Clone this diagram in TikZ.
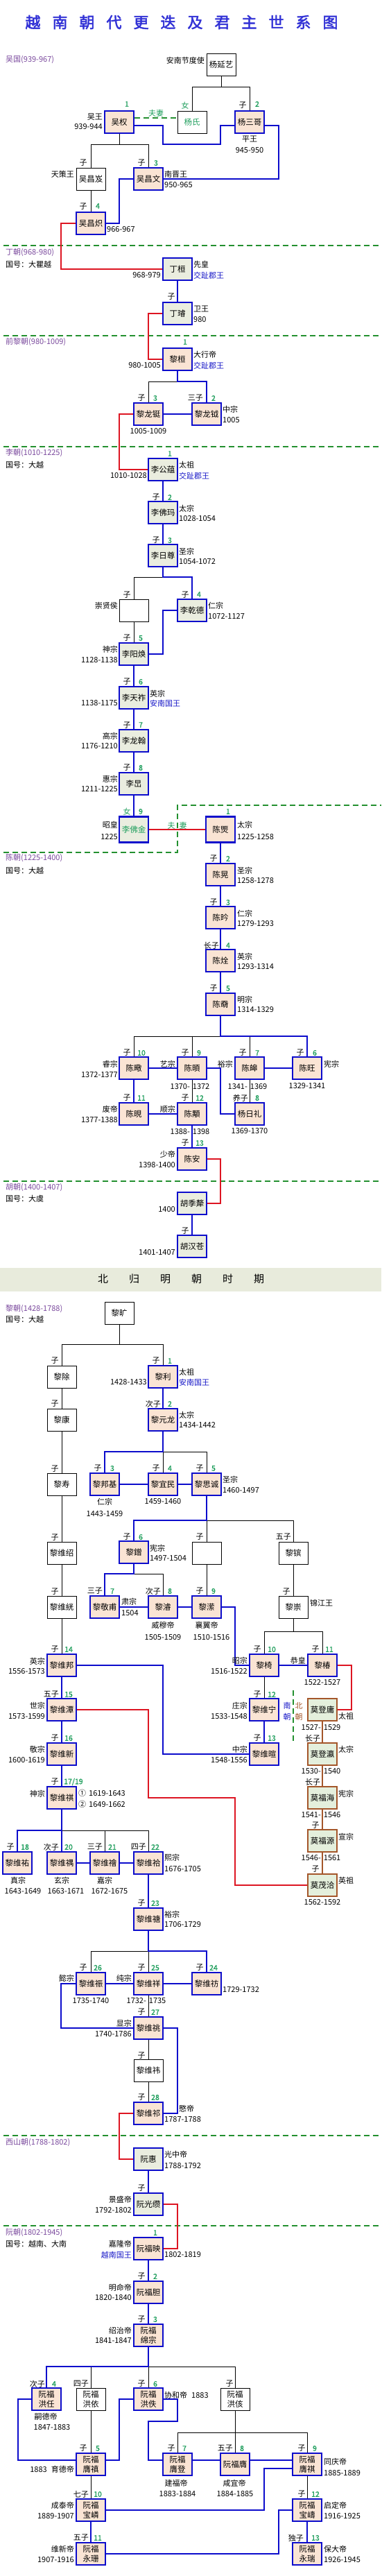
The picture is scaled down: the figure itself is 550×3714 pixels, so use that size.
\documentclass[tikz,border=0pt]{standalone}
\usepackage{fontspec}
\setmainfont{Noto Sans CJK SC}
\newfontfamily\titlef{Noto Sans CJK SC}[FakeBold=2.5]
\newfontfamily\numf{Noto Sans CJK SC}[FakeBold=1.2]
\usetikzlibrary{calc}
\definecolor{kblue}{HTML}{0C0CCC}
\definecolor{kred}{HTML}{DD1522}
\definecolor{kbrown}{HTML}{A4562A}
\definecolor{dgreen}{HTML}{23902F}
\definecolor{ngreen}{HTML}{1E9E5C}
\definecolor{tpurple}{HTML}{7B4A9E}
\definecolor{tblue}{HTML}{1818C8}
\definecolor{ttitle}{HTML}{3232D6}
\definecolor{peach}{HTML}{FAE4D4}
\definecolor{ggreen}{HTML}{EAEDDF}
\definecolor{mgreen}{HTML}{E4EFDC}
\definecolor{bandc}{HTML}{E8EBDC}
\pgfdeclarelayer{bg}
\pgfsetlayers{bg,main}
\newcounter{lbc}
\newcommand\labL[4][]{\stepcounter{lbc}\edef\lbnm{lb\arabic{lbc}}\node[txt,anchor=east,#1] (\lbnm) at (#2,#3) {#4};}
\newcommand\labR[4][]{\stepcounter{lbc}\edef\lbnm{lb\arabic{lbc}}\node[txt,anchor=west,#1] (\lbnm) at (#2,#3) {#4};}
\newcommand\labC[4][]{\stepcounter{lbc}\edef\lbnm{lb\arabic{lbc}}\node[txt,#1] (\lbnm) at (#2,#3) {#4};}
\newcommand\labN[4][]{\stepcounter{lbc}\edef\lbnm{lb\arabic{lbc}}\node[numst,#1] (\lbnm) at (#2,#3) {#4};}
\begin{document}
\begin{tikzpicture}[x=1pt,y=-1pt,
  txt/.style={inner sep=0pt,font=\fontsize{11}{13}\selectfont,text=black},
  numst/.style={inner sep=0pt,font=\numf\fontsize{10.5}{12}\selectfont,text=ngreen},
  box/.style={minimum width=42pt,minimum height=32pt,inner sep=0pt,align=center,font=\fontsize{11.5}{14}\selectfont},
  wbox/.style={box,draw=black,line width=0.8pt,fill=white},
  pbox/.style={box,draw=kblue,line width=2.4pt,fill=peach},
  gbox/.style={box,draw=kblue,line width=2.4pt,fill=ggreen},
  mbox/.style={box,draw=kbrown,line width=2.4pt,fill=mgreen},
  bl/.style={draw=kblue,line width=2.2pt},
  rd/.style={draw=kred,line width=2.2pt},
  bk/.style={draw=black,line width=0.8pt},
  br/.style={draw=kbrown,line width=2.2pt},
  gd/.style={draw=dgreen,line width=2pt,dash pattern=on 8pt off 5pt},
]
\useasboundingbox (0,0) rectangle (550,3714);
% ---------------- title
\node[inner sep=0pt,text=ttitle,font=\titlef\fontsize{22}{24}\selectfont] (title) at (262,32)
 {越\hspace{17pt}南\hspace{17pt}朝\hspace{17pt}代\hspace{17pt}更\hspace{17pt}迭\hspace{17pt}及\hspace{17pt}君\hspace{17pt}主\hspace{17pt}世\hspace{17pt}系\hspace{17pt}图};
% ---------------- Wu
\labR[text=tpurple]{8}{86}{吴国(939-967)}
\node[wbox] (yyy) at (319,93.5) {杨延艺};
\node[wbox,text=ngreen] (ysh) at (277,176) {杨氏};
\node[pbox] (ysg) at (360,176) {杨三哥};
\node[pbox] (wq) at (172,176) {吴权};
\node[wbox] (wcj) at (131,258) {吴昌岌};
\node[pbox] (wcw) at (214,258) {吴昌文};
\node[pbox] (wcc) at (131,322) {吴昌炽};
\labL{295}{87}{安南节度使}
\labC[text=ngreen]{267}{152}{女}
\labC{350}{152}{子}\labN{371}{150}{2}
\labN{183}{150}{1}
\labL{148}{169}{吴王}\labL{148}{183}{939-944}
\labC[text=ngreen]{225}{163}{夫妻}
\labC{360}{201}{平王}\labC{360}{217}{945-950}
\labC{120}{235}{子}\labC{204}{235}{子}\labN{225}{235}{3}
\labL{107}{251}{天策王}
\labR{237}{251}{南晋王}\labR{237}{267}{950-965}
\labC{120}{298}{子}\labN{141}{297}{4}
\labR{154}{331}{966-967}
% ---------------- Dinh
\labR[text=tpurple]{8}{364}{丁朝(968-980)}
\labR{8}{381}{国号：大瞿越}
\node[gbox] (dh) at (256,388) {丁桓};
\node[gbox] (dx) at (256,452) {丁璿};
\labR{279}{381}{先皇}\labR[text=tblue]{279}{397}{交趾郡王}\labL{232}{397}{968-979}
\labC{247}{428}{子}
\labR{279}{445}{卫王}\labR{279}{461}{980}
% ---------------- Early Le
\labR[text=tpurple]{8}{493}{前黎朝(980-1009)}
\node[pbox] (lh) at (256,518) {黎桓};
\labN{267}{493}{1}
\labR{279}{511}{大行帝}\labR[text=tblue]{279}{527}{交趾郡王}\labL{232}{527}{980-1005}
\node[pbox] (lld) at (214,597) {黎龙铤};
\node[pbox] (lly) at (298,597) {黎龙钺};
\labC{204}{574}{子}\labN{224}{574}{3}\labL{293}{574}{三子}\labN{308}{574}{2}
\labR{321}{590}{中宗}\labR{321}{606}{1005}
\labC{214}{622}{1005-1009}
% ---------------- Ly
\labR[text=tpurple]{8}{653}{李朝(1010-1225)}
\labR{8}{670}{国号：大越}
\node[gbox] (lgy) at (235,677) {李公蕴};
\labN{245}{654}{1}\labR{258}{670}{太祖}\labR[text=tblue]{258}{686}{交趾郡王}\labL{212}{686}{1010-1028}
\node[gbox] (lfm) at (235,739) {李佛玛};
\labC{225}{717}{子}\labN{245}{717}{2}\labR{258}{733}{太宗}\labR{258}{748}{1028-1054}
\node[gbox] (lrz) at (235,801) {李日尊};
\labC{225}{779}{子}\labN{245}{779}{3}\labR{258}{795}{圣宗}\labR{258}{810}{1054-1072}
\node[wbox] (cxh) at (193,880) {};
\labC{183}{858}{子}\labL{170}{873}{崇贤侯}
\node[gbox] (lqd) at (277,880) {李乾德};
\labC{267}{858}{子}\labN{287}{857}{4}\labR{300}{873}{仁宗}\labR{300}{889}{1072-1127}
\node[gbox] (lyh) at (193,943) {李阳焕};
\labC{183}{920}{子}\labN{203}{920}{5}\labL{170}{936}{神宗}\labL{170}{952}{1128-1138}
\node[gbox] (ltz) at (193,1006) {李天祚};
\labC{183}{983}{子}\labN{203}{983}{6}\labR{216}{1000}{英宗}\labR[text=tblue]{216}{1014}{安南国王}\labL{170}{1014}{1138-1175}
\node[gbox] (llh) at (193,1068) {李龙翰};
\labC{183}{1046}{子}\labN{203}{1045}{7}\labL{170}{1061}{高宗}\labL{170}{1076}{1176-1210}
\node[gbox] (lc) at (193,1130) {李旵};
\labC{183}{1107}{子}\labN{203}{1107}{8}\labL{170}{1123}{惠宗}\labL{170}{1138}{1211-1225}
\node[gbox,minimum height=37pt,text=ngreen] (lfj) at (193,1196) {李佛金};
\labC[text=ngreen]{183}{1170}{女}\labN{203}{1170}{9}\labL{170}{1189}{昭皇}\labL{170}{1207}{1225}
\node[pbox,minimum height=37pt] (cj) at (318,1196) {陈煚};
\labC[text=ngreen]{247}{1190}{夫}\labC[text=ngreen]{264}{1190}{妻}
\labN{329}{1170}{1}\labR{342}{1189}{太宗}\labR{342}{1207}{1225-1258}
% ---------------- Tran
\labR[text=tpurple]{8}{1237}{陈朝(1225-1400)}
\labR{8}{1255}{国号：大越}
\node[pbox] (ch) at (318,1261) {陈晃};
\labC{308}{1238}{子}\labN{329}{1238}{2}\labR{342}{1255}{圣宗}\labR{342}{1270}{1258-1278}
\node[pbox] (cy) at (318,1323) {陈昑};
\labC{308}{1301}{子}\labN{329}{1301}{3}\labR{342}{1317}{仁宗}\labR{342}{1332}{1279-1293}
\node[pbox] (cq) at (318,1385) {陈烇};
\labL{316}{1363}{长子}\labN{329}{1363}{4}\labR{342}{1379}{英宗}\labR{342}{1394}{1293-1314}
\node[pbox] (cm) at (318,1448) {陈奣};
\labC{308}{1425}{子}\labN{329}{1425}{5}\labR{342}{1441}{明宗}\labR{342}{1456}{1314-1329}
\node[pbox] (cd) at (193,1540) {陈曔};
\node[pbox] (cx) at (277,1540) {陈暊};
\node[pbox] (chao) at (360,1540) {陈皞};
\node[pbox] (cw) at (443,1540) {陈旺};
\labC{183}{1518}{子}\labN{204}{1518}{10}\labL{170}{1534}{睿宗}\labL{170}{1550}{1372-1377}
\labC{267}{1518}{子}\labN{287}{1518}{9}\labL{253}{1534}{艺宗}\labC{274}{1567}{1370-\hspace{4pt}1372}
\labC{350}{1518}{子}\labN{371}{1518}{7}\labL{336}{1534}{裕宗}\labC{357}{1567}{1341-\hspace{4pt}1369}
\labC{433}{1518}{子}\labN{454}{1518}{6}\labR{467}{1534}{宪宗}\labC{443}{1566}{1329-1341}
\node[pbox] (cxian) at (193,1606) {陈晛};
\node[pbox] (cyong) at (277,1606) {陈顒};
\node[pbox] (yrl) at (360,1606) {杨日礼};
\labC{183}{1583}{子}\labN{204}{1583}{11}\labL{170}{1599}{废帝}\labL{170}{1615}{1377-1388}
\labC{267}{1583}{子}\labN{288}{1583}{12}\labL{253}{1599}{顺宗}\labC{274}{1632}{1388-\hspace{4pt}1398}
\labL{358}{1583}{养子}\labN{371}{1583}{8}\labC{360}{1631}{1369-1370}
\node[pbox] (ca) at (277,1671) {陈安};
\labC{267}{1648}{子}\labN{288}{1648}{13}\labL{253}{1664}{少帝}\labL{253}{1680}{1398-1400}
% ---------------- Ho
\labR[text=tpurple]{8}{1712}{胡朝(1400-1407)}
\labR{8}{1728}{国号：大虞}
\node[gbox] (hjl) at (277,1735) {胡季犛};
\labL{253}{1744}{1400}
\node[gbox] (hhc) at (277,1797) {胡汉苍};
\labC{267}{1775}{子}\labL{253}{1806}{1401-1407}
% ---------------- band
\node[inner sep=0pt,font=\fontsize{15}{16}\selectfont] (bandtxt) at (261,1844)
 {北\hspace{30pt}归\hspace{30pt}明\hspace{30pt}朝\hspace{30pt}时\hspace{30pt}期};
% ---------------- Later Le
\labR[text=tpurple]{8}{1887}{黎朝(1428-1788)}
\labR{8}{1902}{国号：大越}
\node[wbox] (lk) at (172,1893) {黎旷};
\node[wbox] (lchu) at (89,1985) {黎除};
\labC{79}{1962}{子}
\node[pbox] (lli) at (235,1985) {黎利};
\labC{225}{1962}{子}\labN{245}{1962}{1}\labR{258}{1978}{太祖}\labR[text=tblue]{258}{1993}{安南国王}\labL{212}{1993}{1428-1433}
\node[wbox] (lkang) at (89,2047) {黎康};
\labC{79}{2024}{子}
\node[pbox] (lyl) at (235,2047) {黎元龙};
\labL{232}{2024}{次子}\labN{245}{2024}{2}\labR{258}{2040}{太宗}\labR{258}{2055}{1434-1442}
\node[wbox] (lshou) at (89,2140) {黎寿};
\labC{79}{2118}{子}
\node[pbox] (lbj) at (151,2140) {黎邦基};
\labC{141}{2117}{子}\labN{162}{2117}{3}\labC{151}{2165}{仁宗}\labC{151}{2183}{1443-1459}
\node[pbox] (lym) at (235,2140) {黎宜民};
\labC{225}{2117}{子}\labN{245}{2117}{4}\labC{235}{2165}{1459-1460}
\node[pbox] (lsc) at (298,2140) {黎思诚};
\labC{288}{2117}{子}\labN{308}{2117}{5}\labR{321}{2133}{圣宗}\labR{321}{2149}{1460-1497}
\node[wbox] (lwx) at (89,2239) {黎维绍};
\labC{79}{2217}{子}
\node[pbox] (lz) at (193,2238) {黎鏳};
\labC{183}{2216}{子}\labN{203}{2216}{6}\labR{216}{2232}{宪宗}\labR{216}{2247}{1497-1504}
\node[wbox] (emp) at (298,2239) {};
\labC{288}{2216}{子}
\node[wbox] (lbin) at (423,2239) {黎镔};
\labL{420}{2216}{五子}
\node[wbox] (lwk) at (89,2317) {黎维絖};
\labC{79}{2295}{子}
\node[pbox] (ljf) at (151,2317) {黎敬甫};
\labL{148}{2294}{三子}\labN{162}{2294}{7}\labR{175}{2309}{肃宗}\labR{175}{2326}{1504}
\node[pbox] (ljun) at (235,2317) {黎濬};
\labL{232}{2294}{次子}\labN{245}{2294}{8}\labC{235}{2343}{威穆帝}\labC{235}{2361}{1505-1509}
\node[pbox] (lying) at (298,2317) {黎潆};
\labC{288}{2294}{子}\labN{308}{2294}{9}\labC{298}{2343}{襄翼帝}\labC{305}{2361}{1510-1516}
\node[wbox] (lchong) at (423,2317) {黎崇};
\labC{413}{2295}{子}\labR{447}{2311}{锦江王}
\node[pbox] (lwb) at (89,2401) {黎维邦};
\labC{79}{2378}{子}\labN{99}{2378}{14}\labL{65}{2395}{英宗}\labL{65}{2410}{1556-1573}
\node[pbox] (lyi) at (381,2401) {黎椅};
\labC{371}{2378}{子}\labN{392}{2378}{10}\labL{357}{2394}{昭宗}\labL{357}{2410}{1516-1522}
\node[pbox] (lchun) at (465,2401) {黎椿};
\labC{455}{2378}{子}\labN{475}{2378}{11}\labL{441}{2394}{恭皇}\labC{465}{2426}{1522-1527}
\node[pbox] (lwt) at (89,2465) {黎维潭};
\labL{85}{2443}{五子}\labN{99}{2443}{15}\labL{65}{2459}{世宗}\labL{65}{2475}{1573-1599}
\node[pbox] (lwn) at (381,2465) {黎维宁};
\labC{371}{2443}{子}\labN{392}{2443}{12}\labL{357}{2459}{庄宗}\labL{357}{2475}{1533-1548}
\node[mbox] (mdy) at (465,2465) {莫登庸};
\labR{488}{2474}{太祖}\labC{463}{2491}{1527-\hspace{4pt}1529}
\labC[text=tblue,align=center,font=\fontsize{11}{16}\selectfont]{414}{2467}{南\\朝}
\labC[text=kbrown,align=center,font=\fontsize{11}{16}\selectfont]{431}{2467}{北\\朝}
\node[pbox] (lwxin) at (89,2529) {黎维新};
\labC{79}{2506}{子}\labN{99}{2506}{16}\labL{65}{2522}{敬宗}\labL{65}{2538}{1600-1619}
\node[pbox] (lwx2) at (381,2529) {黎维暄};
\labC{371}{2506}{子}\labN{392}{2506}{13}\labL{357}{2522}{中宗}\labL{357}{2538}{1548-1556}
\node[mbox] (mdying) at (465,2529) {莫登瀛};
\labC{451}{2506}{长子}\labR{488}{2522}{太宗}\labC{463}{2554}{1530-\hspace{4pt}1540}
\node[pbox] (lwq) at (89,2592) {黎维祺};
\labC{79}{2569}{子}\labN[anchor=west]{92}{2569}{17/19}\labL{65}{2586}{神宗}
\labR{113}{2585}{①\hspace{4pt}1619-1643}\labR{113}{2601}{②\hspace{4pt}1649-1662}
\node[mbox] (mfh) at (465,2592) {莫福海};
\labC{451}{2569}{长子}\labR{488}{2586}{宪宗}\labC{463}{2617}{1541-\hspace{4pt}1546}
\node[mbox] (mfy) at (465,2654) {莫福源};
\labC{455}{2632}{子}\labR{488}{2648}{宣宗}\labC{463}{2679}{1546-\hspace{4pt}1561}
\node[mbox] (mmq) at (465,2718) {莫茂洽};
\labC{455}{2695}{子}\labR{488}{2711}{英祖}\labC{465}{2743}{1562-1592}
\node[pbox] (lwyou) at (25,2686) {黎维祐};
\labC{15}{2663}{子}\labN{36}{2663}{18}\labC{26}{2711}{真宗}\labC{33}{2727}{1643-1649}
\node[pbox] (lwyu) at (89,2686) {黎维禑};
\labL{85}{2663}{次子}\labN{99}{2663}{20}\labC{89}{2711}{玄宗}\labC{95}{2727}{1663-1671}
\node[pbox] (lwhui) at (151,2686) {黎维禬};
\labL{148}{2663}{三子}\labN{162}{2663}{21}\labC{151}{2711}{嘉宗}\labC{158}{2727}{1672-1675}
\node[pbox] (lwhe) at (214,2686) {黎维祫};
\labL{211}{2663}{四子}\labN{224}{2663}{22}\labR{237}{2678}{熙宗}\labR{237}{2695}{1676-1705}
\node[pbox] (lwtang) at (214,2767) {黎维禟};
\labC{204}{2744}{子}\labN{224}{2744}{23}\labR{237}{2760}{裕宗}\labR{237}{2775}{1706-1729}
\node[pbox] (lwchen) at (131,2860) {黎维祳};
\labC{120}{2837}{子}\labN{141}{2837}{26}\labL{107}{2852}{懿宗}\labC{131}{2885}{1735-1740}
\node[pbox] (lwxiang) at (214,2860) {黎维祥};
\labC{204}{2837}{子}\labN{224}{2837}{25}\labL{190}{2852}{纯宗}\labC{211}{2885}{1732-\hspace{4pt}1735}
\node[pbox] (lwfang) at (298,2860) {黎维祊};
\labC{288}{2837}{子}\labN{308}{2837}{24}\labR{321}{2869}{1729-1732}
\node[pbox] (lwtiao) at (214,2924) {黎维祧};
\labC{204}{2901}{子}\labN{224}{2901}{27}\labL{190}{2917}{显宗}\labL{190}{2933}{1740-1786}
\node[wbox] (lwwei) at (214,2985) {黎维祎};
\labC{204}{2964}{子}
\node[pbox] (lwqi) at (214,3047) {黎维祁};
\labC{204}{3024}{子}\labN{224}{3024}{28}\labR{258}{3040}{愍帝}\labR{237}{3056}{1787-1788}
% ---------------- Tay Son
\labR[text=tpurple]{8}{3089}{西山朝(1788-1802)}
\node[gbox] (nh) at (214,3113) {阮惠};
\labR{237}{3106}{光中帝}\labR{237}{3123}{1788-1792}
\node[gbox] (ngz) at (214,3178) {阮光缵};
\labC{204}{3155}{子}\labL{190}{3171}{景盛帝}\labL{190}{3187}{1792-1802}
% ---------------- Nguyen
\labR[text=tpurple]{8}{3219}{阮朝(1802-1945)}
\labR{8}{3235}{国号：越南、大南}
\node[pbox] (nfy) at (214,3242) {阮福映};
\labN{224}{3219}{1}\labL{190}{3235}{嘉隆帝}\labL[text=tblue]{190}{3251}{越南国王}\labR{237}{3251}{1802-1819}
\node[pbox] (nfd) at (214,3305) {阮福胆};
\labC{204}{3282}{子}\labN{224}{3282}{2}\labL{190}{3298}{明命帝}\labL{190}{3313}{1820-1840}
\node[pbox] (nfmz) at (214,3367) {阮福\\绵宗};
\labC{204}{3344}{子}\labN{224}{3344}{3}\labL{190}{3360}{绍治帝}\labL{190}{3375}{1841-1847}
\node[pbox] (nhr) at (67,3459) {阮福\\洪任};
\labL{65}{3437}{次子}\labN{78}{3437}{4}\labC{66}{3484}{嗣德帝}\labC{75}{3500}{1847-1883}
\node[wbox] (nhy) at (131,3459) {阮福\\洪依};
\labL{128}{3437}{四子}
\node[pbox] (nhd) at (214,3459) {阮福\\洪佚};
\labC{204}{3437}{子}\labN{224}{3437}{6}\labR{237}{3453}{协和帝\hspace{6pt}1883}
\node[wbox] (nhg) at (339,3459) {阮福\\洪侅};
\labC{331}{3437}{子}
\node[pbox] (nyz) at (131,3553) {阮福\\膺禛};
\labC{120}{3530}{子}\labN{141}{3530}{5}\labL{107}{3560}{1883\hspace{6pt}育德帝}
\node[pbox] (nyd) at (256,3553) {阮福\\膺登};
\labC{247}{3530}{子}\labN{266}{3530}{7}\labC{254}{3580}{建福帝}\labC{256}{3596}{1883-1884}
\node[pbox] (nyt) at (339,3553) {阮福膺};
\labL{336}{3530}{五子}\labN{349}{3530}{8}\labC{338}{3580}{咸宜帝}\labC{339}{3596}{1884-1885}
\node[pbox] (nyq) at (443,3553) {阮福\\膺祺};
\labC{435}{3530}{子}\labN{454}{3530}{9}\labR{467}{3549}{同庆帝}\labR{467}{3566}{1885-1889}
\node[pbox] (nbl) at (131,3619) {阮福\\宝嶙};
\labL{128}{3596}{七子}\labN{141}{3596}{10}\labL{107}{3612}{成泰帝}\labL{107}{3628}{1889-1907}
\node[pbox] (nbd) at (443,3619) {阮福\\宝嶹};
\labC{435}{3596}{子}\labN{455}{3596}{12}\labR{467}{3612}{启定帝}\labR{467}{3628}{1916-1925}
\node[pbox] (nys) at (131,3682) {阮福\\永珊};
\labL{128}{3659}{五子}\labN{141}{3659}{11}\labL{107}{3675}{维新帝}\labL{107}{3691}{1907-1916}
\node[pbox] (nyr) at (443,3682) {阮福\\永瑞};
\labL{438}{3659}{独子}\labN{455}{3659}{13}\labR{467}{3675}{保大帝}\labR{467}{3691}{1926-1945}
% ================= background: fills, separators, connectors
\begin{pgfonlayer}{bg}
\fill[white] (0,0) rectangle (550,3714);
\fill[bandc] (0,1828) rectangle (550,1862);
\draw[gd] (5,354) -- (550,354);
\draw[gd] (5,484) -- (550,484);
\draw[gd] (5,644) -- (550,644);
\draw[gd] (5,1229) -- (256,1229) -- (256,1161) -- (550,1161);
\draw[gd] (5,1703) -- (550,1703);
\draw[gd] (5,3079) -- (550,3079);
\draw[gd] (5,3209) -- (550,3209);
\draw[gd] (423,2437) -- (423,2512);
% Wu
\draw[bk] (yyy.south) -- (319,125);
\draw[bk] (ysh.north) |- (ysg.north |- 0,125) -- (ysg.north);
\draw[gd] (wq.east |- 0,170) -- (ysh.west |- 0,170);
\draw[bl] (wq.east |- 0,181) -- (235,181) |- (318,208) |- (ysg.west |- 0,181);
\draw[bl] (ysg.east |- 0,181) -- (402,181) |- (wcw.east);
\draw[bk] (wq.south) -- (172,208);
\draw[bk] (wcj.north) |- (wcw.north |- 0,208) -- (wcw.north);
\draw[bl] (wcw.west) -- (172,258) |- (wcc.east);
\draw[bk] (wcj.south) -- (wcc.north);
\draw[rd] (wcc.west) -- (88,322) |- (dh.west);
% Dinh / Early Le
\draw[bl] (dh.south) -- (dx.north);
\draw[rd] (dx.west) -- (214,452) |- (lh.west);
\draw[bk] (lld.north) |- (lh.south |- 0,550);
\draw[bl] (lh.south) |- (lly.north |- 0,550) -- (lly.north);
\draw[bl] (lld.east) -- (lly.west);
\draw[rd] (lld.west) -- (172,597) |- (lgy.west);
% Ly
\draw[bl] (lgy.south) -- (lfm.north);
\draw[bl] (lfm.south) -- (lrz.north);
\draw[bk] (cxh.north) |- (lrz.south |- 0,832);
\draw[bl] (lrz.south) |- (lqd.north |- 0,832) -- (lqd.north);
\draw[bl] (lqd.west) -- (235,880) |- (lyh.east);
\draw[bk] (cxh.south) -- (lyh.north);
\draw[bl] (lyh.south) -- (ltz.north);
\draw[bl] (ltz.south) -- (llh.north);
\draw[bl] (llh.south) -- (lc.north);
\draw[bl] (lc.south) -- (lfj.north);
\draw[rd] (lfj.east) -- (cj.west);
% Tran
\draw[bl] (cj.south) -- (ch.north);
\draw[bl] (ch.south) -- (cy.north);
\draw[bl] (cy.south) -- (cq.north);
\draw[bl] (cq.south) -- (cm.north);
\draw[bk] (cd.north) |- (cw.north |- 0,1494);
\draw[bk] (cx.north) -- (cx.north |- 0,1494);
\draw[bk] (chao.north) -- (chao.north |- 0,1494);
\draw[bl] (cm.south) |- (cw.north |- 0,1494) -- (cw.north);
\draw[bl] (cd.east) -- (cx.west);
\draw[bl] (cx.east) -- (318,1540) |- (yrl.west);
\draw[bl] (chao.east) -- (cw.west);
\draw[bk] (chao.south) -- (yrl.north);
\draw[bk] (cx.south) -- (cyong.north);
\draw[bl] (cd.south) -- (cxian.north);
\draw[bl] (cxian.east) -- (cyong.west);
\draw[bl] (cyong.south) -- (ca.north);
\draw[rd] (ca.east) -- (318,1671) |- (hjl.east);
\draw[bl] (hjl.south) -- (hhc.north);
% Later Le
\draw[bk] (lk.south) -- (172,1938);
\draw[bk] (lchu.north) |- (lli.north |- 0,1938) -- (lli.north);
\draw[bk] (lchu.south) -- (lkang.north);
\draw[bk] (lkang.south) -- (lshou.north);
\draw[bk] (lshou.south) -- (lwx.north);
\draw[bk] (lwx.south) -- (lwk.north);
\draw[bk] (lwk.south) -- (lwb.north);
\draw[bl] (lli.south) -- (lyl.north);
\draw[bk] (lym.north) |- (lsc.north |- 0,2093) -- (lsc.north);
\draw[bl] (lyl.south) |- (lbj.north |- 0,2093) -- (lbj.north);
\draw[bl] (lbj.east) -- (lym.west);
\draw[bl] (lym.east) -- (lsc.west);
\draw[bk] (emp.north) |- (lbin.north |- 0,2192) -- (lbin.north);
\draw[bl] (lsc.south) |- (lz.north |- 0,2192) -- (lz.north);
\draw[bk] (ljun.north) |- (lz.south |- 0,2269);
\draw[bl] (lz.south) |- (ljf.north |- 0,2269) -- (ljf.north);
\draw[bl] (ljf.east) -- (ljun.west);
\draw[bl] (ljun.east) -- (lying.west);
\draw[bk] (emp.south) -- (lying.north);
\draw[bk] (lbin.south) -- (lchong.north);
\draw[bl] (lying.east) -- (339,2317) |- (lyi.west);
\draw[bk] (lchong.south) -- (423,2352);
\draw[bk] (lyi.north) |- (lchun.north |- 0,2352) -- (lchun.north);
\draw[bl] (lyi.east) -- (lchun.west);
\draw[rd] (lchun.east) -- (507,2401) |- (mdy.east);
\draw[bl] (lwb.east) -- (235,2401) |- (lwx2.west);
\draw[bl] (lwb.south) -- (lwt.north);
\draw[bk] (lyi.south) -- (lwn.north);
\draw[bl] (lwn.south) -- (lwx2.north);
\draw[rd] (lwt.east) -- (214,2465) |- (339,2592) |- (mmq.west);
\draw[bl] (lwt.south) -- (lwxin.north);
\draw[bl] (lwxin.south) -- (lwq.north);
\draw[br] (mdy.south) -- (mdying.north);
\draw[br] (mdying.south) -- (mfh.north);
\draw[br] (mfh.south) -- (mfy.north);
\draw[br] (mfy.south) -- (mmq.north);
\draw[bk] (lwhui.north) |- (lwq.south |- 0,2639);
\draw[bk] (lwhe.north) |- (lwq.south |- 0,2639);
\draw[bl] (lwq.south) -- (lwyu.north);
\draw[bl] (lwq.south |- 0,2639) -| (lwyou.north);
\draw[bl] (lwyu.east) -- (lwhui.west);
\draw[bl] (lwhui.east) -- (lwhe.west);
\draw[bl] (lwhe.south) -- (lwtang.north);
\draw[bk] (lwchen.north) |- (lwxiang.north |- 0,2813) -- (lwxiang.north);
\draw[bl] (lwtang.south) |- (lwfang.north |- 0,2813) -- (lwfang.north);
\draw[bl] (lwchen.east) -- (lwxiang.west);
\draw[bl] (lwxiang.east) -- (lwfang.west);
\draw[bl] (lwchen.west) -- (88,2860) |- (lwtiao.west);
\draw[bk] (lwxiang.south) -- (lwtiao.north);
\draw[bk] (lwtiao.south) -- (lwwei.north);
\draw[bk] (lwwei.south) -- (lwqi.north);
\draw[bl] (lwtiao.east) -- (256,2924) |- (lwqi.east);
\draw[rd] (lwqi.west) -- (172,3047) |- (nh.west);
% Tay Son / Nguyen
\draw[bl] (nh.south) -- (ngz.north);
\draw[rd] (ngz.east) -- (256,3178) |- (nfy.east);
\draw[bl] (nfy.south) -- (nfd.north);
\draw[bl] (nfd.south) -- (nfmz.north);
\draw[bk] (nhy.north) |- (nhg.north |- 0,3412) -- (nhg.north);
\draw[bk] (nhd.north) -- (nhd.north |- 0,3412);
\draw[bl] (nfmz.south) |- (nhr.north |- 0,3412) -- (nhr.north);
\draw[bk] (nhg.south) -- (nyt.north);
\draw[bk] (nyd.north) |- (nyq.north |- 0,3507) -- (nyq.north);
\draw[bk] (nhy.south) -- (nyz.north);
\draw[bl] (nhr.west) -- (26,3459) |- (nyz.west |- 0,3547);
\draw[bl] (nyz.east |- 0,3547) -- (172,3547) |- (nhd.west);
\draw[bl] (nhd.east) -- (256,3459) |- (214,3491) |- (nyd.west |- 0,3547);
\draw[bl] (nyd.east |- 0,3547) -- (nyt.west |- 0,3547);
\draw[bl] (nyt.east |- 0,3547) -- (nyq.west |- 0,3547);
\draw[bl] (nyq.west |- 0,3559) -- (381,3559) |- (nbl.east);
\draw[bk] (nyz.south) -- (nbl.north);
\draw[bk] (nyq.south) -- (nbd.north);
\draw[bl] (nbl.south) -- (nys.north);
\draw[bl] (nbd.south) -- (nyr.north);
\draw[bl] (nys.east) -- (402,3682) |- (nbd.west);
\end{pgfonlayer}
\end{tikzpicture}
\end{document}
